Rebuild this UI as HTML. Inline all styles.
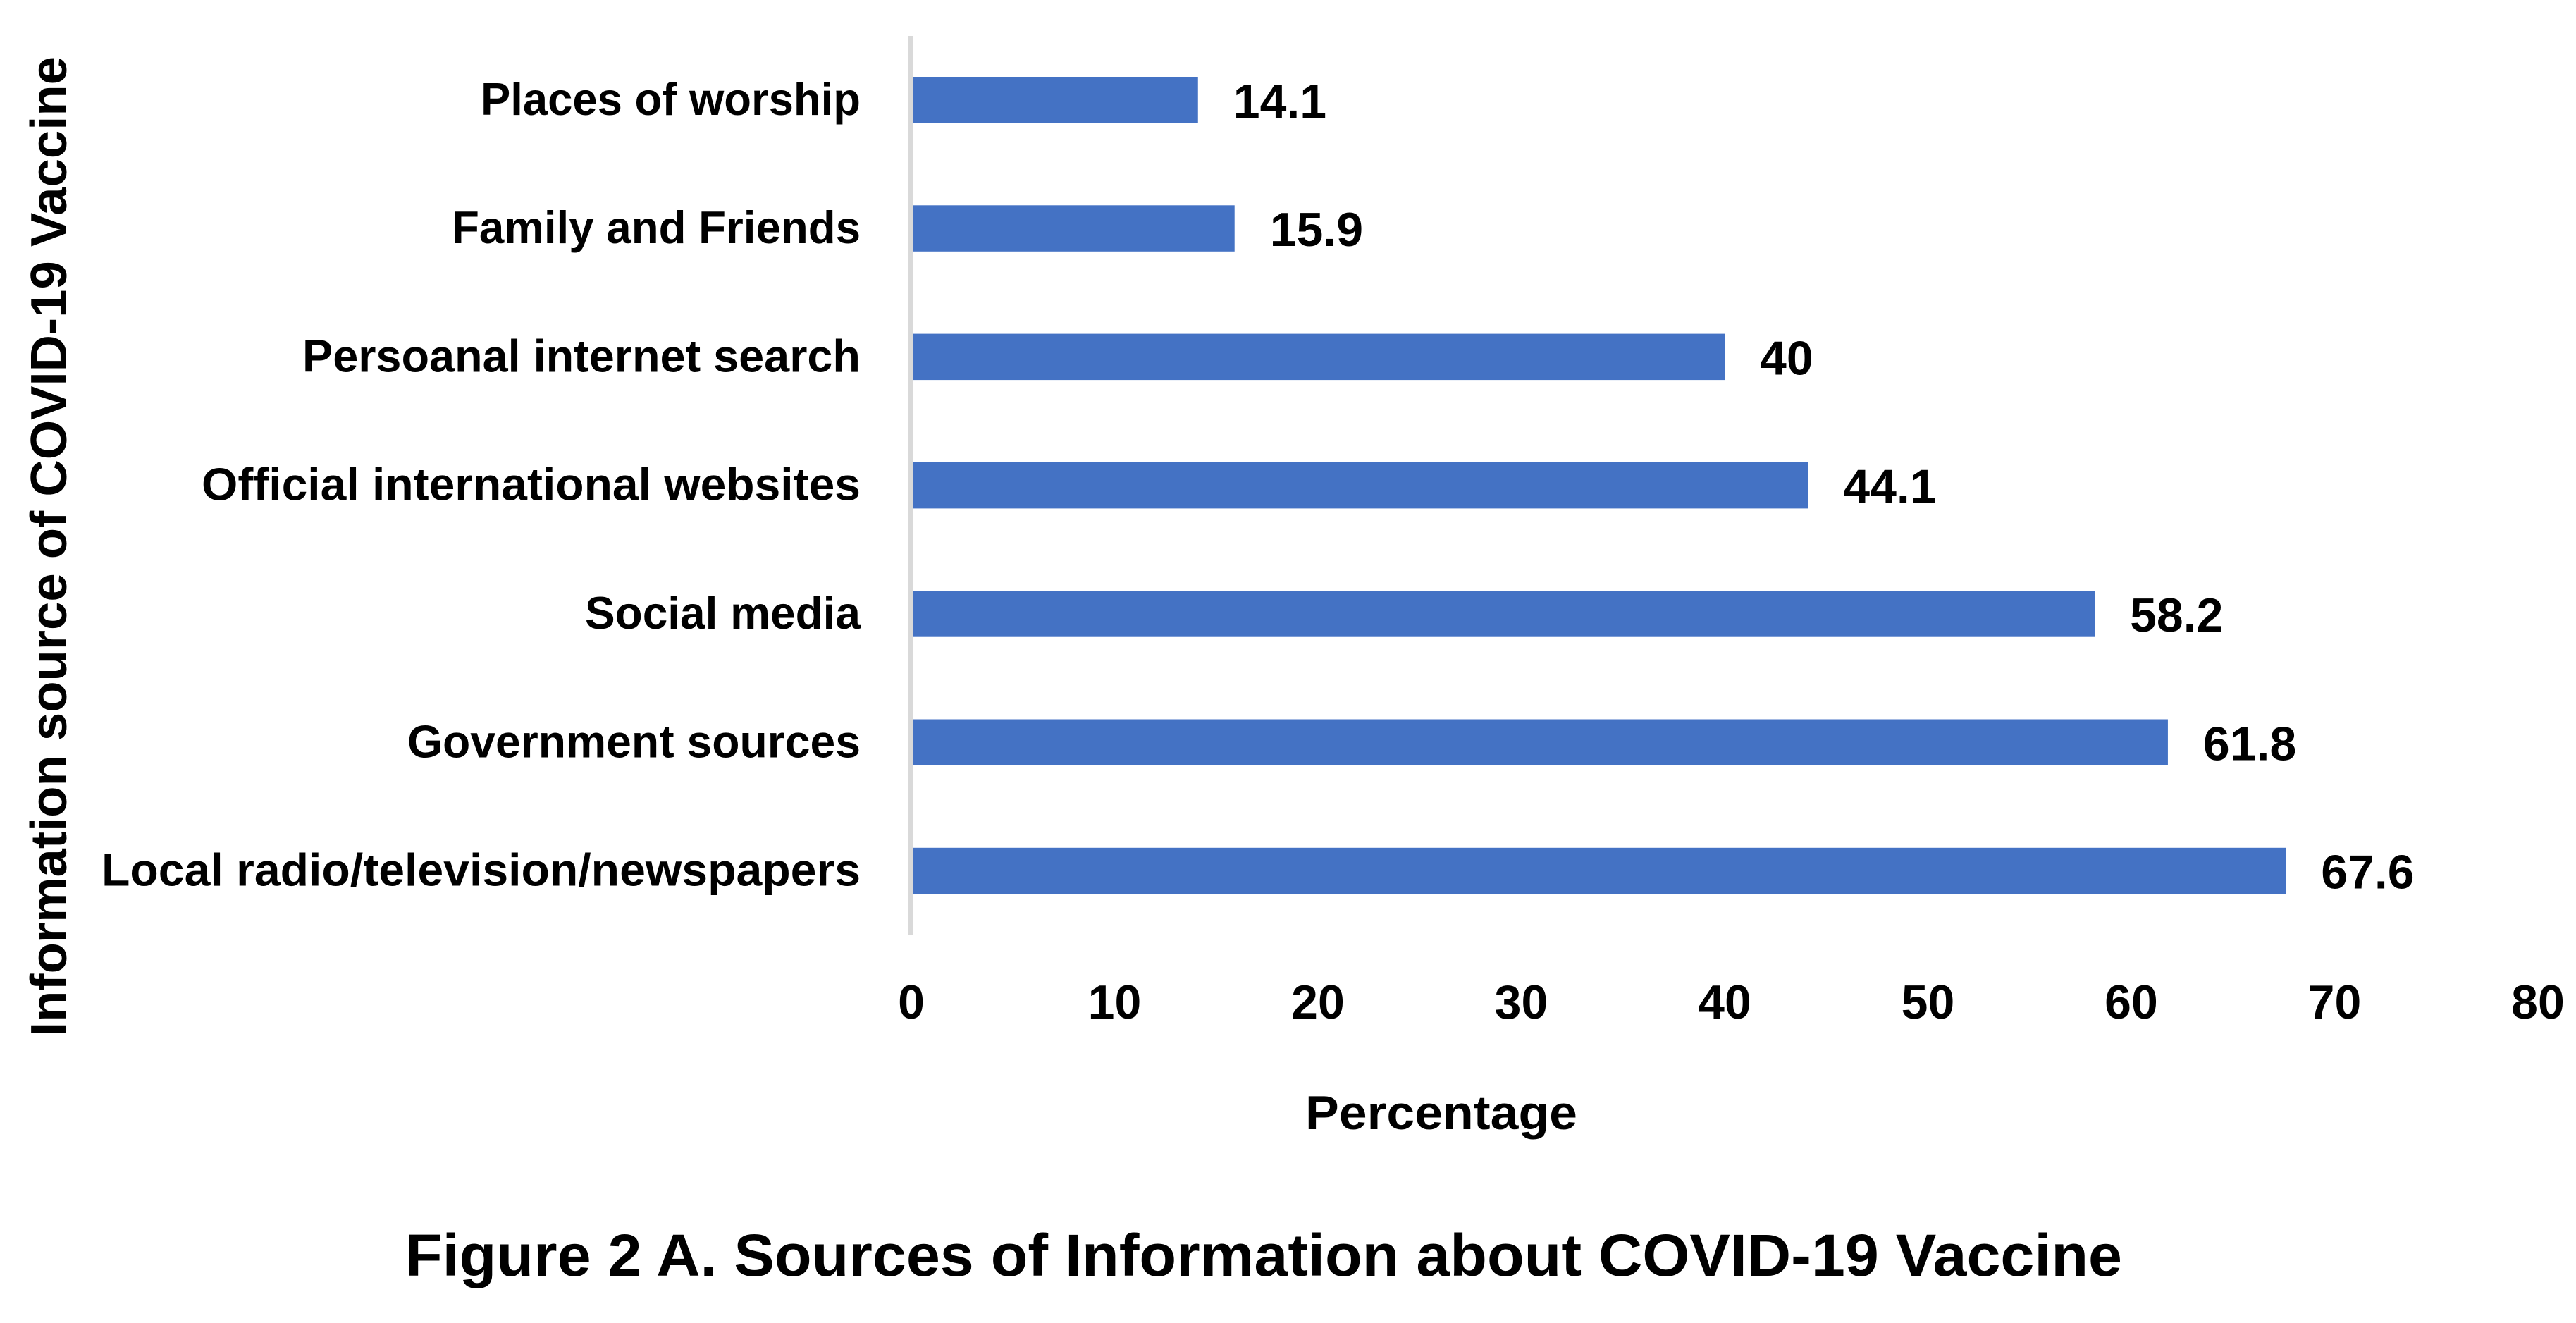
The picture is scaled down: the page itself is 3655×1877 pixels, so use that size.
<!DOCTYPE html>
<html lang="en">
<head>
<meta charset="utf-8">
<title>Figure 2 A. Sources of Information about COVID-19 Vaccine</title>
<style>
  html, body { margin: 0; padding: 0; background: #ffffff; }
  svg { display: block; }
  text { font-family: "Liberation Sans", sans-serif; font-weight: bold; fill: #000000; }
</style>
</head>
<body>
<svg id="chart" xmlns="http://www.w3.org/2000/svg" width="3655" height="1877" viewBox="0 0 3655 1877">
  <rect x="0" y="0" width="3655" height="1877" fill="#ffffff"/>
  <g id="bars"></g>
  <rect x="1289" y="51" width="7" height="1276" fill="#d9d9d9"/>
  <g id="labels"></g>
  <g id="values"></g>
  <g id="ticks"></g>
  <text transform="translate(94,1470) rotate(-90)" font-size="72" textLength="1390" lengthAdjust="spacingAndGlyphs">Information source of COVID-19 Vaccine</text>
  <text x="1852" y="1602" font-size="68" textLength="386" lengthAdjust="spacingAndGlyphs">Percentage</text>
  <text x="575" y="1810" font-size="84" textLength="2436" lengthAdjust="spacingAndGlyphs">Figure 2 A. Sources of Information about COVID-19 Vaccine</text>
</svg>
<script>
const categories = ["Places of worship", "Family and Friends", "Persoanal internet search", "Official international websites", "Social media", "Government sources", "Local radio/television/newspapers"];
const percentages = [14.1, 15.9, 40, 44.1, 58.2, 61.8, 67.6];
const xTickLabels = [0, 10, 20, 30, 40, 50, 60, 70, 80];

const SVG_NS = "http://www.w3.org/2000/svg";
const xAxis = { origin: 1293, pxPerUnit: 28.85 };
const yAxis = { first: 141.75, step: 182.3 };
const barThickness = 65.5;
const fontSizeLabel = 65;
const fontSizeNumber = 68;
const labelRightEdge = 1221;

/* Rendered widths of the category text in the reference's typeface. */
const labelFit = {
  "Places of worship": 539,
  "Family and Friends": 580,
  "Persoanal internet search": 792,
  "Official international websites": 935,
  "Social media": 391,
  "Government sources": 643,
  "Local radio/television/newspapers": 1077
};

function xPos(value) { return xAxis.origin + value * xAxis.pxPerUnit; }
function yPos(index) { return yAxis.first + index * yAxis.step; }
function slug(text) { return String(text).toLowerCase().replace(/[^a-z0-9]+/g, "-"); }

const barsGroup = document.getElementById("bars");
const labelsGroup = document.getElementById("labels");
const valuesGroup = document.getElementById("values");
const ticksGroup = document.getElementById("ticks");

categories.forEach(function (category, i) {
  const center = yPos(i);
  const value = percentages[i];

  const bar = document.createElementNS(SVG_NS, "rect");
  bar.setAttribute("x", xPos(0));
  bar.setAttribute("y", center - barThickness / 2);
  bar.setAttribute("width", xPos(value) - xPos(0));
  bar.setAttribute("height", barThickness);
  bar.setAttribute("fill", "#4472c4");
  
  
  barsGroup.appendChild(bar);

  const label = document.createElementNS(SVG_NS, "text");
  label.setAttribute("x", labelRightEdge - labelFit[category]);
  label.setAttribute("y", center + 21);
  label.setAttribute("font-size", fontSizeLabel);
  label.setAttribute("textLength", labelFit[category]);
  label.setAttribute("lengthAdjust", "spacingAndGlyphs");
  label.textContent = category;
  
  
  labelsGroup.appendChild(label);

  const valueLabel = document.createElementNS(SVG_NS, "text");
  valueLabel.setAttribute("x", xPos(value) + 50);
  valueLabel.setAttribute("y", center + 25);
  valueLabel.setAttribute("font-size", fontSizeNumber);
  valueLabel.textContent = String(value);
  
  
  valuesGroup.appendChild(valueLabel);
});

xTickLabels.forEach(function (tick) {
  const tickLabel = document.createElementNS(SVG_NS, "text");
  tickLabel.setAttribute("x", xPos(tick));
  tickLabel.setAttribute("y", 1445);
  tickLabel.setAttribute("font-size", fontSizeNumber);
  tickLabel.setAttribute("text-anchor", "middle");
  tickLabel.textContent = String(tick);
  
  
  ticksGroup.appendChild(tickLabel);
});
</script>
</body>
</html>
